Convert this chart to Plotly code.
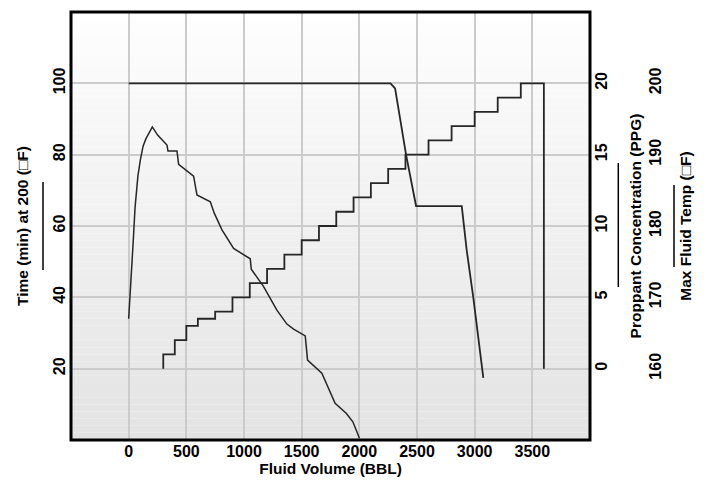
import plotly.graph_objects as go

# ---- data ----
time_x = [0, 12, 25, 40, 55, 80, 101, 125, 150, 205, 251, 332, 341, 419, 433, 563, 592,
          708, 742, 809, 910, 1054, 1063, 1170, 1285, 1372, 1430, 1531, 1551, 1675, 1790,
          1886, 1944, 2001]
time_min = [34, 40, 47, 56, 65, 74, 78.5, 82.4, 84.5, 87.8, 85.5, 82.7, 81.0, 81.0, 77.3, 74.0,
            68.7, 66.8, 63.6, 58.9, 53.7, 50.8, 47.9, 43.0, 36.4, 32.5, 31.1, 29.2, 22.4, 18.7,
            10.3, 7.5, 5.1, 0.5]

prop_x = [300, 300, 400, 500, 600, 750, 900, 1050, 1200, 1350, 1500, 1650, 1800, 1950, 2100,
          2250, 2400, 2600, 2800, 3000, 3200, 3400, 3600, 3600]
prop_ppg = [0, 1, 2, 3, 3.5, 4, 5, 6, 7, 8, 9, 10, 11, 12, 13, 14, 15, 16, 17, 18, 19, 20, 20, 0]

temp_x = [0, 2270, 2310, 2405, 2492, 2888, 2931, 2988, 3075]
temp_f = [200, 200, 199.3, 190, 182.8, 182.8, 176.6, 170.0, 158.7]

x_ticks = [0, 500, 1000, 1500, 2000, 2500, 3000, 3500]
time_ticks = [20, 40, 60, 80, 100]
prop_ticks = [0, 5, 10, 15, 20]
temp_ticks = [160, 170, 180, 190, 200]

FONT = "Liberation Sans, Arial, sans-serif"
LINE = "#262626"

fig = go.Figure()
fig.add_trace(go.Scatter(x=time_x, y=time_min, mode="lines", yaxis="y",
                         line=dict(color=LINE, width=1.5), name="Time at 200"))
fig.add_trace(go.Scatter(x=prop_x, y=prop_ppg, mode="lines", yaxis="y2", line_shape="hv",
                         line=dict(color=LINE, width=1.8), name="Proppant"))
fig.add_trace(go.Scatter(x=temp_x, y=temp_f, mode="lines", yaxis="y3",
                         line=dict(color=LINE, width=1.8), name="Max Fluid Temp"))

W, H = 712, 481
ml, mr, mt, mb = 71, 10, 12, 41
pw = W - ml - mr
ph = H - mt - mb
plot_right = 590
xdom = (plot_right - ml) / pw

def px_to_paper_x(px):
    return (px - ml) / pw

def py_to_paper_y(py):
    return (H - mb - py) / ph

shapes = []
# vertical gradient background (white -> light gray)
n = 60
for i in range(n):
    t = (i + 0.5) / n
    v = int(round(254 - (254 - 227) * t))
    shapes.append(dict(type="rect", xref="x domain", yref="y domain",
                       x0=0, x1=1, y0=1 - (i + 1) / n, y1=1 - i / n,
                       fillcolor=f"rgb({v},{v},{v})", line=dict(width=0), layer="below"))
# plot border
shapes.append(dict(type="rect", xref="x domain", yref="y domain", x0=0, x1=1, y0=0, y1=1,
                   line=dict(color="black", width=3), layer="above"))
# axis line-sample bars next to axis titles
for px, py0, py1 in [(43, 182, 270), (618.3, 163, 287), (674, 185, 267)]:
    shapes.append(dict(type="line", xref="paper", yref="paper",
                       x0=px_to_paper_x(px), x1=px_to_paper_x(px),
                       y0=py_to_paper_y(py0), y1=py_to_paper_y(py1),
                       line=dict(color="black", width=1.5)))

GRID = "#cbcbcb"
fig.update_layout(
    width=W, height=H,
    margin=dict(l=ml, r=mr, t=mt, b=mb),
    paper_bgcolor="white", plot_bgcolor="white",
    showlegend=False,
    font=dict(family=FONT, size=15.5, color="black", weight="bold"),
    shapes=shapes,
    xaxis=dict(domain=[0, xdom], range=[-500, 4000], tickvals=x_ticks,
               showgrid=True, gridcolor=GRID, gridwidth=1.5, zeroline=False,
               ticks="", tickfont=dict(size=16), ticklabelstandoff=0,
               title=dict(text="Fluid Volume (BBL)", standoff=1, font=dict(size=15.5))),
    yaxis=dict(range=[0, 120], tickvals=time_ticks, tickangle=-90,
               showgrid=True, gridcolor=GRID, gridwidth=1.5, zeroline=False,
               ticks="", tickfont=dict(size=16), ticklabelstandoff=2,
               title=dict(text="Time (min) at 200 (□F)", standoff=18, font=dict(size=15.5))),
    yaxis2=dict(range=[-5, 25], tickvals=prop_ticks, tickangle=-90, overlaying="y",
                side="right", anchor="x", showgrid=False, zeroline=False, ticks="",
                tickfont=dict(size=16),
                title=dict(text="Proppant Concentration (PPG)", standoff=21, font=dict(size=15.5))),
    yaxis3=dict(range=[150, 210], tickvals=temp_ticks, tickangle=-90, overlaying="y",
                side="right", anchor="free", position=px_to_paper_x(644),
                showgrid=False, zeroline=False, ticks="", showline=False,
                tickfont=dict(size=16),
                title=dict(text="Max Fluid Temp (□F)", standoff=17, font=dict(size=15.5))),
)

fig.write_html("out.html")
